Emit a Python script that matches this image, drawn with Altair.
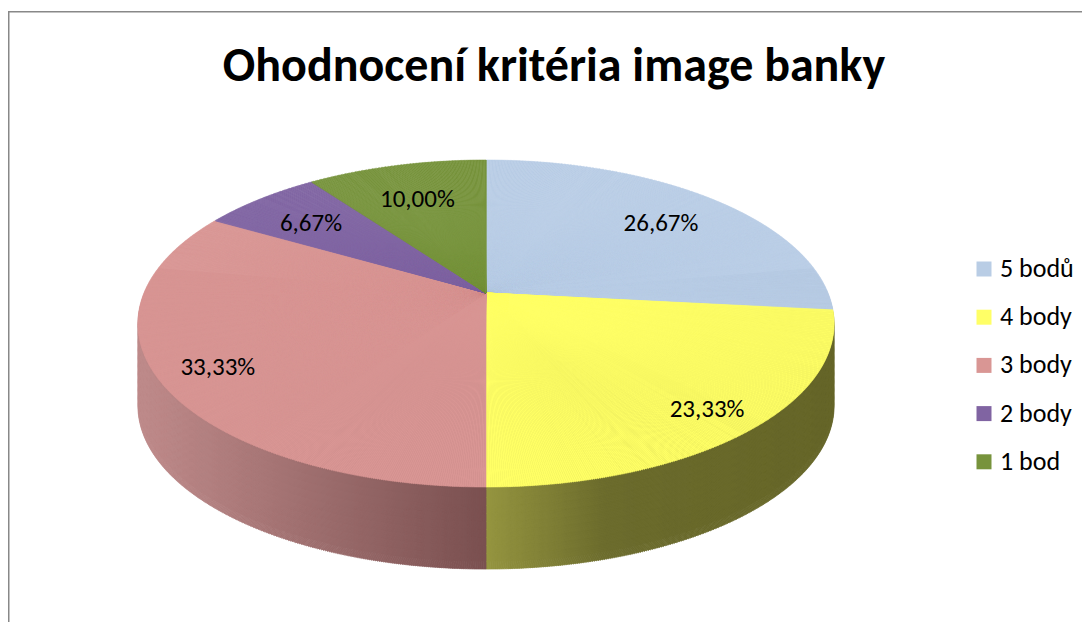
import math
import altair as alt
import pandas as pd

# ---- data ----
categories = ["5 bodů", "4 body", "3 body", "2 body", "1 bod"]
values = [26.67, 23.33, 33.33, 6.67, 10.00]
title_text = "Ohodnocení kritéria image banky"

# ---- styles ----
top_colors = ["#B9CDE5", "#FFFF66", "#D99694", "#8064A2", "#77933C"]
side_light = ["#8C9BB0", "#959540", "#BE8A8A", "#5E4A78", "#58702C"]
side_mid = ["#7A889B", "#6C6C2D", "#A77676", "#54426B", "#4E6227"]
side_dark = ["#6D7A8B", "#666629", "#7A5050", "#4A3A5F", "#455722"]
FONT = "Calibri, Carlito, Lato, sans-serif"

W, H = 1074, 611
CX, CY = 478, 282          # pie centre inside the plot area
A, B, P = 342, 157.8, 0.1866   # ellipse half axes and perspective factor
DEPTH_STEPS = list(range(82, 0, -8))
STEP = math.radians(0.3)

df = pd.DataFrame({"cat": categories, "value": values, "order": list(range(len(categories)))})


def PX(t):
    return f"({A}*sin({t})/(1+{P}*cos({t})))"


def PY(t):
    return f"({B}*cos({t})/(1+{P}*cos({t})))"


def PSI(t):
    e = f"atan2({PX(t)},{PY(t)})"
    return f"({e}<0?{e}+2*PI:{e})"


def RHO(t):
    return f"sqrt(pow({PX(t)},2)+pow({PY(t)},2))"


def base():
    return (
        alt.Chart(df)
        .transform_joinaggregate(total="sum(value)")
        .transform_window(cum="sum(value)", sort=[alt.SortField("order")], frame=[None, 0])
        .transform_calculate(p0="2*PI*(datum.cum-datum.value)/datum.total")
        .transform_calculate(p1="2*PI*datum.cum/datum.total")
        .transform_calculate(idx=f"sequence(0, ceil((datum.p1-datum.p0)/{STEP}))")
        .transform_flatten(["idx"])
        .transform_calculate(a0=f"datum.p0+datum.idx*{STEP}")
        .transform_calculate(a1=f"min(datum.p0+(datum.idx+1)*{STEP}, datum.p1)")
        .transform_calculate(am="(datum.a0+datum.a1)/2")
        .transform_calculate(s0=PSI("datum.a0"))
        .transform_calculate(s1=PSI("datum.a1"))
        .transform_calculate(r=RHO("datum.am"))
    )


side_domain, side_range = [], []
for i in range(len(categories)):
    side_domain += [i, i + 0.35, i + 0.999]
    side_range += [side_light[i], side_mid[i], side_dark[i]]
side_scale = alt.Scale(domain=side_domain, range=side_range, interpolate="rgb", zero=False)

lo, hi = math.radians(80), math.radians(280)
layers = []
for off in DEPTH_STEPS:
    side = (
        base()
        .transform_filter(f"datum.am > {lo} && datum.am < {hi}")
        .transform_calculate(pL="min(datum.p1, 1.5*PI)")
        .transform_calculate(pR="max(datum.p0, 0.5*PI)")
        .transform_calculate(xL=PX("datum.pL"))
        .transform_calculate(xR=PX("datum.pR"))
        .transform_calculate(xm=PX("datum.am"))
        .transform_calculate(
            tt="abs(datum.xR-datum.xL)<1e-6 ? 0.5 : clamp((datum.xm-datum.xL)/(datum.xR-datum.xL), 0, 1)"
        )
        .transform_calculate(key="datum.order + 0.999*datum.tt")
        .mark_arc(yOffset=off, strokeWidth=0.8)
        .encode(
            theta=alt.Theta("s0:Q", scale=None, stack=None),
            theta2=alt.Theta2("s1:Q"),
            radius=alt.Radius("r:Q", scale=None),
            color=alt.Color("key:Q", scale=side_scale, legend=None),
            stroke=alt.Stroke("key:Q", scale=side_scale, legend=None),
            x=alt.value(CX),
            y=alt.value(CY),
        )
    )
    layers.append(side)

top = (
    base()
    .mark_arc(strokeWidth=0.6)
    .encode(
        theta=alt.Theta("s0:Q", scale=None, stack=None),
        theta2=alt.Theta2("s1:Q"),
        radius=alt.Radius("r:Q", scale=None),
        color=alt.Color(
            "cat:N",
            scale=alt.Scale(domain=categories, range=top_colors),
            legend=alt.Legend(
                title=None,
                orient="none",
                legendX=963,
                legendY=245,
                symbolType="square",
                symbolSize=225,
                symbolStrokeWidth=0,
                labelFontSize=26,
                labelFont=FONT,
                labelColor="#000000",
                labelOffset=3,
                rowPadding=22.2,
                padding=0,
            ),
        ),
        stroke=alt.Stroke("cat:N", scale=alt.Scale(domain=categories, range=top_colors), legend=None),
        x=alt.value(CX),
        y=alt.value(CY),
    )
)
layers.append(top)

labels = (
    base()
    .transform_filter("datum.idx == 0")
    .transform_calculate(lm="(datum.p0+datum.p1)/2")
    .transform_calculate(lf="0.8 - 0.07*cos(datum.lm)")
    .transform_calculate(
        lx=f"{A}*datum.lf*sin(datum.lm)/(1+{P}*datum.lf*cos(datum.lm))"
    )
    .transform_calculate(
        ly=f"{B}*datum.lf*cos(datum.lm)/(1+{P}*datum.lf*cos(datum.lm))"
    )
    .transform_calculate(lpsi="atan2(datum.lx, datum.ly) < 0 ? atan2(datum.lx, datum.ly) + 2*PI : atan2(datum.lx, datum.ly)")
    .transform_calculate(lrho="sqrt(datum.lx*datum.lx + datum.ly*datum.ly)")
    .transform_calculate(lab="replace(format(datum.value, '.2f'), '.', ',') + '%'")
    .mark_text(fontSize=25, font=FONT, color="#000000", align="center", baseline="middle", dy=3)
    .encode(
        theta=alt.Theta("lpsi:Q", scale=None, stack=None),
        radius=alt.Radius("lrho:Q", scale=None),
        text=alt.Text("lab:N"),
        x=alt.value(CX),
        y=alt.value(CY),
    )
)
layers.append(labels)

frame_df = pd.DataFrame({"z": [0]})
left_rule = alt.Chart(frame_df).mark_rule(color="#888888", strokeWidth=1.5).encode(
    x=alt.value(0.75), y=alt.value(0), y2=alt.value(H)
)
top_rule = alt.Chart(frame_df).mark_rule(color="#888888", strokeWidth=1.5).encode(
    x=alt.value(0), x2=alt.value(W), y=alt.value(0.75)
)
layers += [left_rule, top_rule]

chart = (
    alt.layer(*layers)
    .resolve_scale(color="independent", stroke="independent")
    .properties(
        width=W,
        height=H,
        padding={"left": 0, "top": 3, "right": 0, "bottom": 0},
        autosize=alt.AutoSizeParams(type="none"),
        title=alt.TitleParams(
            title_text,
            font=FONT,
            fontSize=48,
            fontWeight="bold",
            color="#000000",
            anchor="middle",
            offset=-81,
            dx=9,
        ),
    )
    .configure_view(strokeOpacity=0)
)

chart.save("out.html", embed_options={"renderer": "svg", "actions": False})
